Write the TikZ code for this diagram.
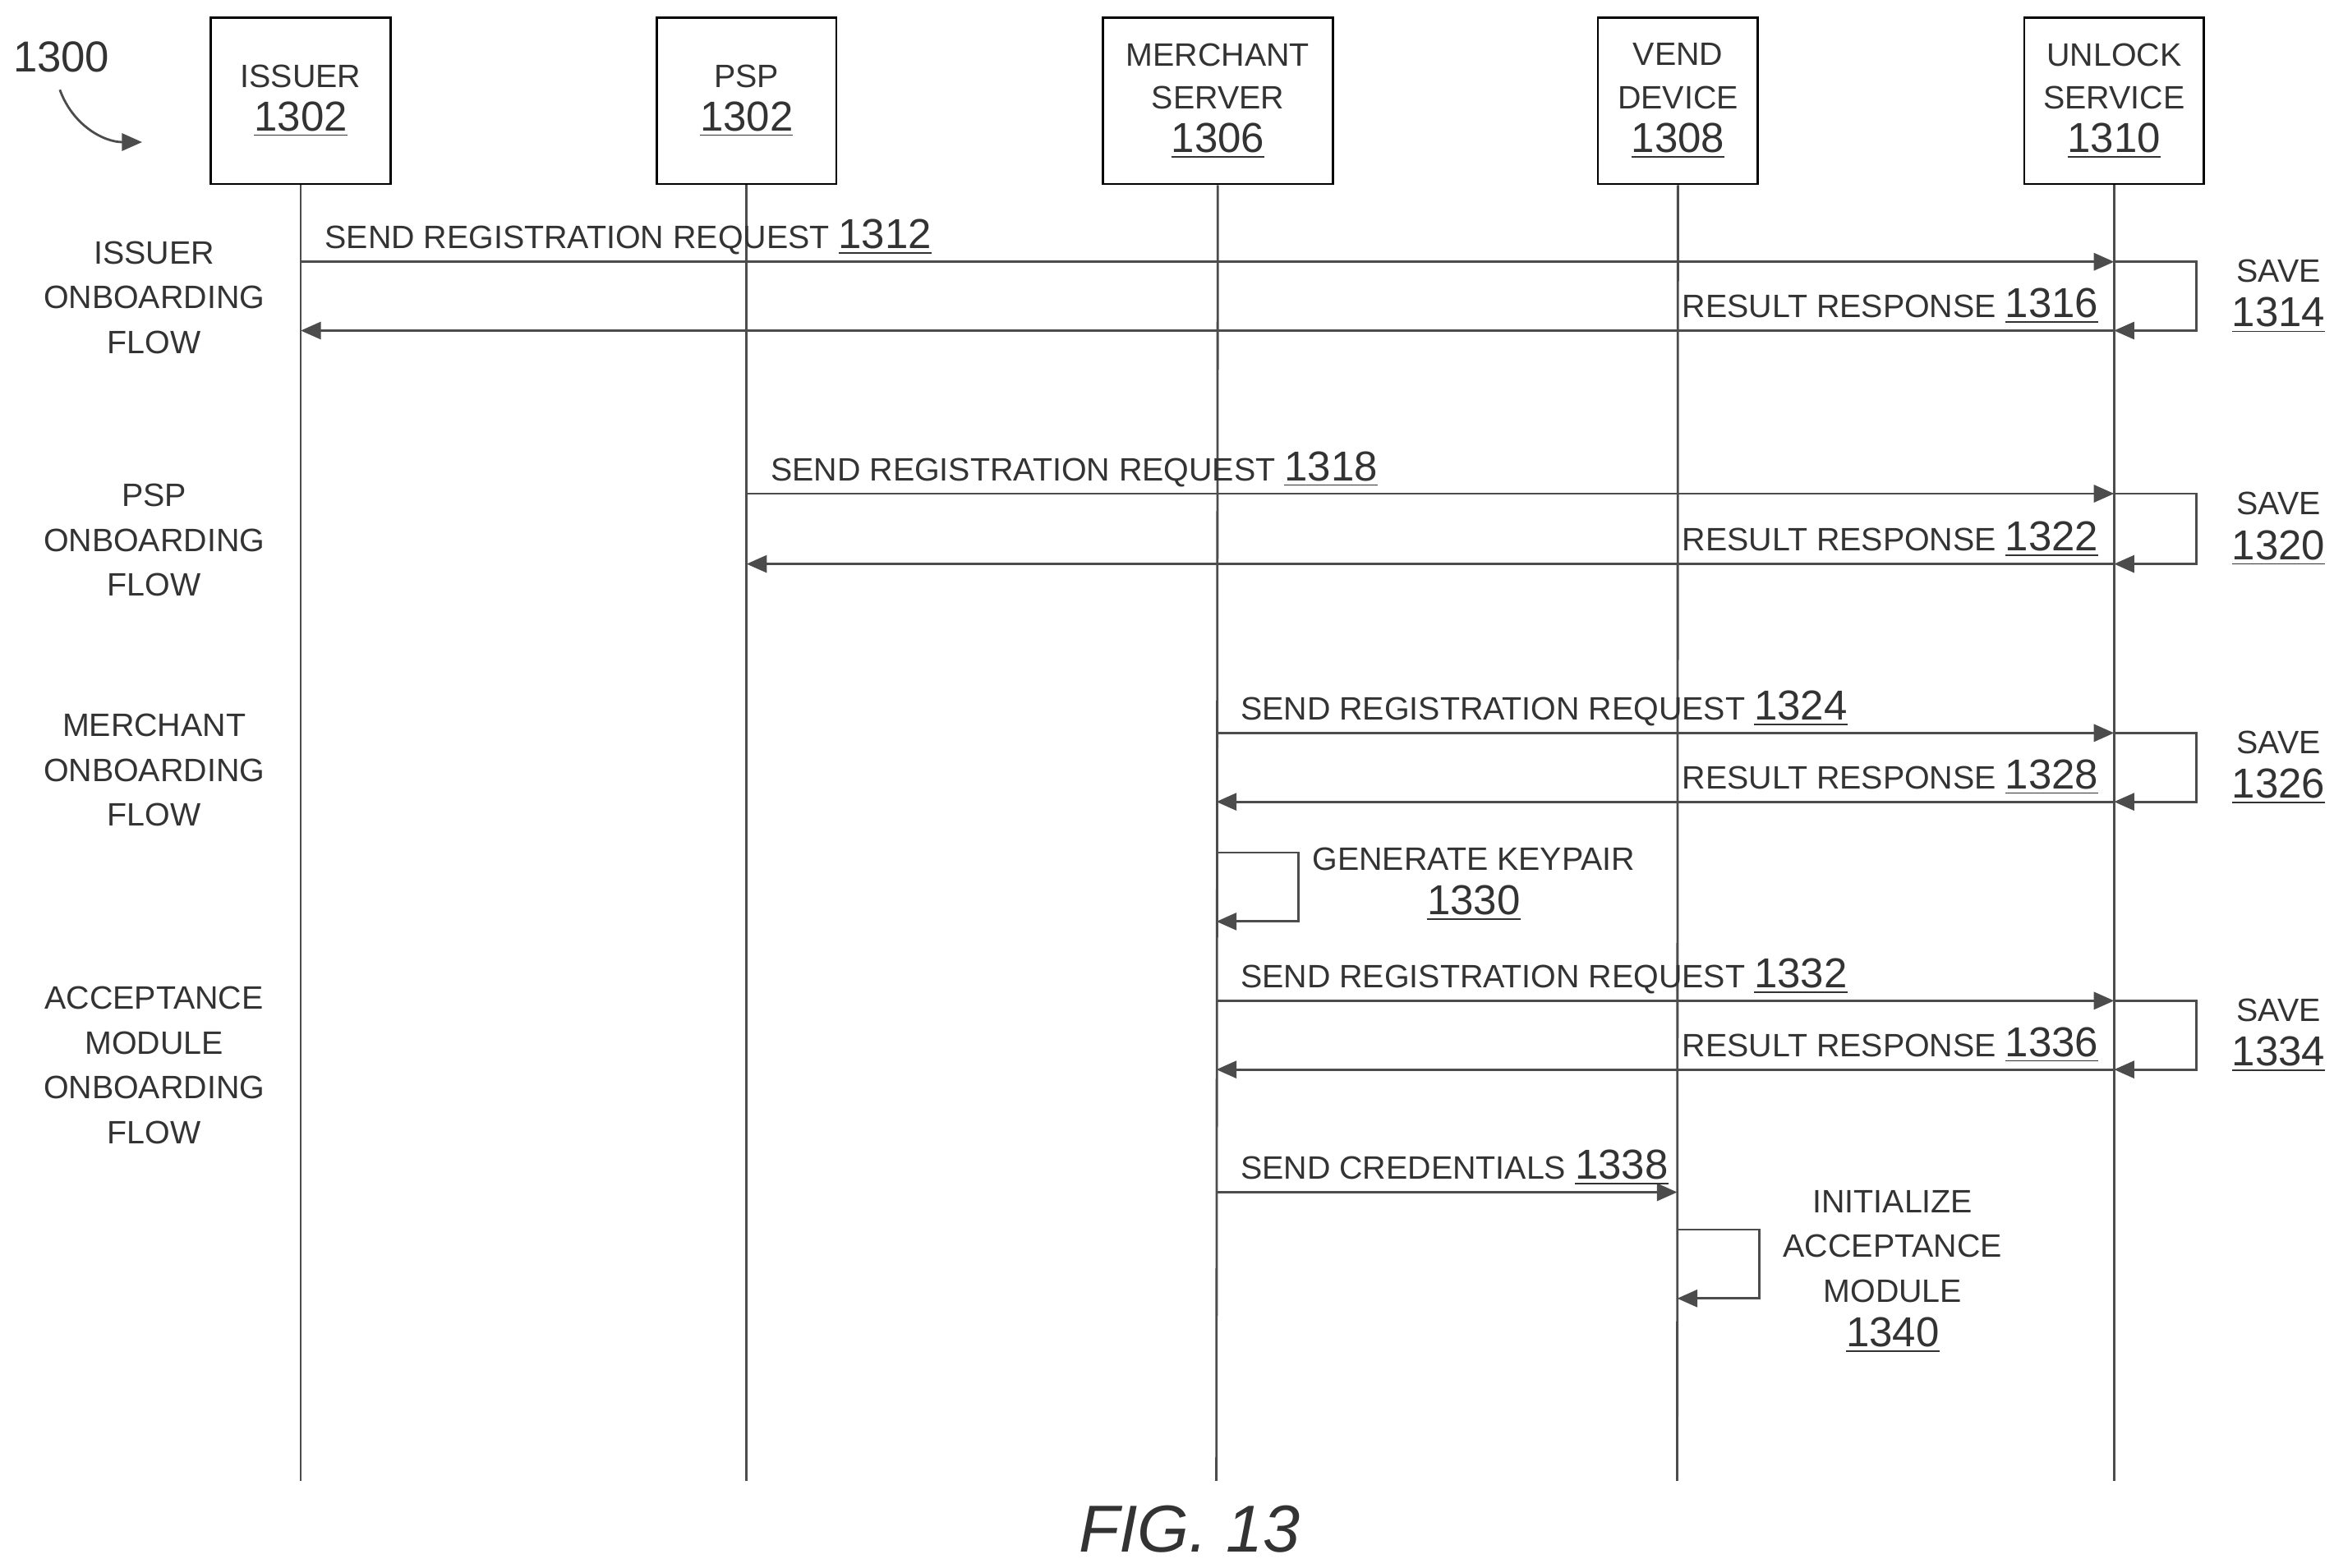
\documentclass[tikz,border=0pt]{standalone}
\usepackage{fontspec}
\setmainfont{Liberation Sans}
\usetikzlibrary{arrows.meta, positioning, calc}
\newcommand{\num}[1]{{\fontsize{14.5}{17}\selectfont\underline{#1}}}
\begin{document}
\begin{tikzpicture}[
        x=0.01821cm, y=-0.01821cm,
        >={Triangle[length=7pt,width=6pt]},
        actor/.style={rectangle, draw, thick, text centered, align=center, font=\fontsize{11.2}{15}\selectfont, text=black!80},
        life/.style={draw, thick, black!70},
        msg/.style={draw, thick, black!70, ->},
        lbl/.style={font=\fontsize{11.2}{15}\selectfont, text=black!80, inner sep=2pt},
        flow/.style={font=\fontsize{11.2}{15.5}\selectfont, align=center, text=black!80}
    ]
        \useasboundingbox (0,0) rectangle (1560,1048);

        % Actors
        \node [actor, minimum width=120*0.01821cm, minimum height=111*0.01821cm] (issuer) at (201,67.5) {ISSUER\\\num{1302}};
        \node [actor, minimum width=120*0.01821cm, minimum height=111*0.01821cm] (psp) at (499,67.5) {PSP\\\num{1302}};
        \node [actor, minimum width=154*0.01821cm, minimum height=111*0.01821cm] (merchant) at (814,67.5) {MERCHANT\\SERVER\\\num{1306}};
        \node [actor, minimum width=107*0.01821cm, minimum height=111*0.01821cm] (vend) at (1121.5,67.5) {VEND\\DEVICE\\\num{1308}};
        \node [actor, minimum width=120*0.01821cm, minimum height=111*0.01821cm] (unlock) at (1413,67.5) {UNLOCK\\SERVICE\\\num{1310}};

        % Lifelines
        \foreach \a/\x in {issuer/201, psp/499, merchant/813, vend/1121, unlock/1413} {
            \coordinate (\a_end) at (\x,990);
            \path [life] (\a) -- (\a_end);
        }

        % Figure number
        \node [font=\fontsize{15}{18}\selectfont, text=black!80] (fig) at (41,38) {1300};
        \draw [thick, black!70, ->] (40,60) to[out=-70,in=180] (95,95);
        \node [font=\fontsize{23}{28}\selectfont\itshape, text=black!80] (caption) at (795,1022) {FIG. 13};

        % Flow labels
        \node [flow] (f_issuer) at (103,199) {ISSUER\\ONBOARDING\\FLOW};
        \node [flow] (f_psp) at (103,361) {PSP\\ONBOARDING\\FLOW};
        \node [flow] (f_merchant) at (103,515) {MERCHANT\\ONBOARDING\\FLOW};
        \node [flow] (f_accept) at (103,712) {ACCEPTANCE\\MODULE\\ONBOARDING\\FLOW};

        % Registration / response pairs
        \foreach \src/\xs/\ya/\yb/\req/\save/\res in {
            issuer/201/175/221/1312/1314/1316,
            psp/499/330/377/1318/1320/1322,
            merchant/813/490/536/1324/1326/1328,
            merchant/813/669/715/1332/1334/1336} {
            \coordinate (req_s\req) at (\xs,\ya);
            \coordinate (req_e\req) at (1413,\ya);
            \coordinate (res_s\req) at (1413,\yb);
            \coordinate (res_e\req) at (\xs,\yb);
            \path [msg] (req_s\req) -- node [lbl, above, pos=0, anchor=south west, xshift=6pt] {SEND REGISTRATION REQUEST \num{\req}} (req_e\req);
            \path [msg] (req_e\req) -- ++(55,0) |- (res_s\req);
            \path [msg] (res_s\req) -- node [lbl, pos=0, anchor=south east, xshift=-3pt] {RESULT RESPONSE \num{\res}} (res_e\req);
            \node [flow] at (1523,\ya/2+\yb/2) {SAVE\\\num{\save}};
        }

        % Keypair
        \coordinate (key_s) at (813,570);
        \coordinate (key_e) at (813,616);
        \path [msg] (key_s) -- ++(55,0) |- (key_e);
        \node [flow] (keypair) at (985,591) {GENERATE KEYPAIR\\\num{1330}};

        % Credentials
        \coordinate (cred_s) at (813,797);
        \coordinate (cred_e) at (1121,797);
        \path [msg] (cred_s) -- node [lbl, pos=0, anchor=south west, xshift=6pt] {SEND CREDENTIALS \num{1338}} (cred_e);

        % Initialize
        \coordinate (init_s) at (1121,822);
        \coordinate (init_e) at (1121,868);
        \path [msg] (init_s) -- ++(55,0) |- (init_e);
        \node [flow] (init) at (1265,850) {INITIALIZE\\ACCEPTANCE\\MODULE\\\num{1340}};
    \end{tikzpicture}
\end{document}
